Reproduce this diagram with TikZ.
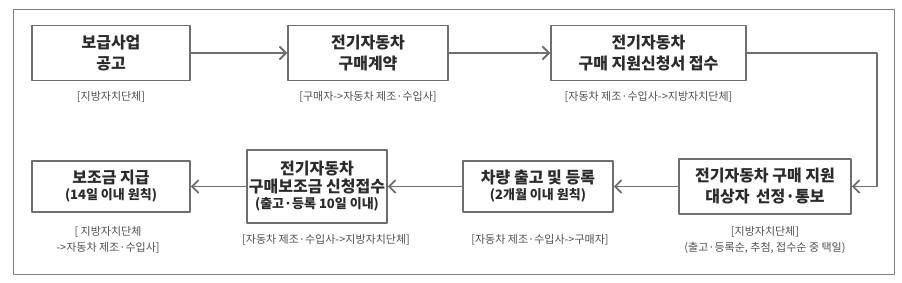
\documentclass[tikz,border=0pt]{standalone}
\usepackage{fontspec}
\setmainfont{Noto Sans CJK KR}
\usetikzlibrary{arrows.meta}
\definecolor{framegray}{HTML}{808080}
\definecolor{boxgray}{HTML}{6E6E6E}
\definecolor{textgray}{HTML}{2B2B2B}
\definecolor{notegray}{HTML}{505050}

\begin{document}
\begin{tikzpicture}[x=1pt,y=-1pt,line cap=round,line join=round,
  stepbox/.style={draw=boxgray,line width=1.5pt,align=center,inner sep=0pt,
    text=textgray,font=\fontsize{16}{21}\selectfont\bfseries},
  note/.style={align=center,text=notegray,font=\fontsize{11}{15.5}\selectfont},
  flow/.style={draw=boxgray,line width=1.8pt,-{Straight Barb[length=6.5pt,width=13pt]}}]
  \useasboundingbox (0,0) rectangle (902,283);
  % 바깥 틀
  \draw[framegray,line width=0.9pt] (13,9) rectangle (894,274);
  % 윗줄
  \node[stepbox,minimum width=158pt,minimum height=55pt] (notice) at (111,53) {보급사업\\공고};
  \node[stepbox,minimum width=160pt,minimum height=55pt] (contract) at (368,53) {전기자동차\\구매계약};
  \node[stepbox,minimum width=195pt,minimum height=55pt] (apply) at (648.5,53) {전기자동차\\구매 지원신청서 접수};
  \node[note] (notice-who) at (111,97) {[지방자치단체]};
  \node[note] (contract-who) at (368,97) {[구매자->자동차 제조·수입사]};
  \node[note] (apply-who) at (648.5,97) {[자동차 제조·수입사->지방자치단체]};
  % 아랫줄
  \node[stepbox,minimum width=172pt,minimum height=55pt] (select) at (765,186.5) {전기자동차 구매 지원\\대상자\, 선정·통보};
  \node[stepbox,minimum width=150pt,minimum height=51pt] (release) at (538,186.5)
    {차량 출고 및 등록\\[-5pt]{\fontsize{13}{15}\selectfont (2개월 이내 원칙)}};
  \node[stepbox,minimum width=140pt,minimum height=73pt] (receipt) at (317,186.5)
    {전기자동차\\[-3pt]구매보조금 신청접수\\[-5pt]{\fontsize{13}{15}\selectfont (출고·등록 10일 이내)}};
  \node[stepbox,minimum width=158pt,minimum height=51pt] (pay) at (111,186.5)
    {보조금 지급\\[-5pt]{\fontsize{13}{15}\selectfont (14일 이내 원칙)}};
  \node[note] (select-who) at (765,240) {[지방자치단체]\\(출고·등록순, 추첨, 접수순 중 택일)};
  \node[note] (release-who) at (540,240) {[자동차 제조·수입사->구매자]};
  \node[note] (receipt-who) at (326,240) {[자동차 제조·수입사->지방자치단체]};
  \node[note] (pay-who) at (108,240) {[ 지방자치단체\\->자동차 제조·수입사]};
  % 화살표
  \coordinate (turn) at (877,53);
  \draw[flow] (notice) -- (contract);
  \draw[flow] (contract) -- (apply);
  \draw[flow] (apply.east) -- (turn) |- (select.east);
  \draw[flow] (select) -- (release);
  \draw[flow] (release) -- (receipt);
  \draw[flow] (receipt) -- (pay);
\end{tikzpicture}
\end{document}
